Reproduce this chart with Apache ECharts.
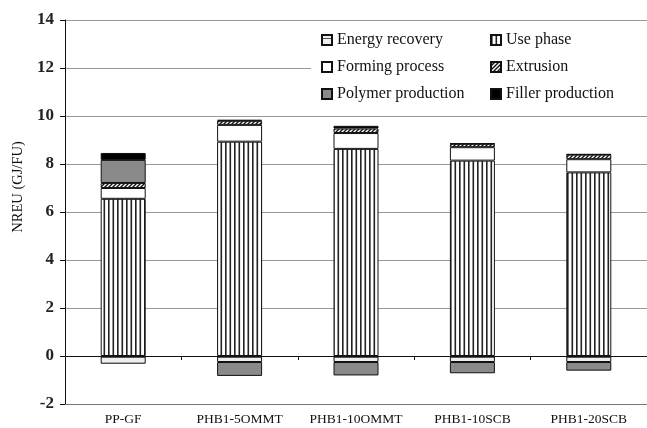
<!DOCTYPE html>
<html>
<head>
<meta charset="utf-8">
<script src="https://cdn.jsdelivr.net/npm/echarts@6/dist/echarts.min.js"></script>
<style>
  html, body { margin: 0; padding: 0; background: #fff; }
  #chart { width: 647px; height: 428px; }
</style>
</head>
<body>
<div id="chart"></div>
<script>
// Non-renewable energy use per functional unit, split by life-cycle stage
const categories = ['PP-GF', 'PHB1-5OMMT', 'PHB1-10OMMT', 'PHB1-10SCB', 'PHB1-20SCB'];
const energyRecovery    = [-0.32, -0.25, -0.25, -0.25, -0.25];
const usePhase          = [6.55, 8.93, 8.63, 8.14, 7.65];
const formingProcess    = [0.45, 0.70, 0.66, 0.56, 0.55];
const extrusion         = [0.21, 0.17, 0.19, 0.14, 0.19];
const polymerProduction = [0.96, -0.58, -0.56, -0.47, -0.36];
const fillerProduction  = [0.29, 0.04, 0.11, 0.02, 0.02];
const yMin = -2, yMax = 14, yStep = 2;

const serif = 'Liberation Serif, Times New Roman, serif';

function pattern(w, h, draw) {
  const c = document.createElement('canvas');
  c.width = w; c.height = h;
  const ctx = c.getContext('2d');
  ctx.fillStyle = '#fff';
  ctx.fillRect(0, 0, w, h);
  draw(ctx);
  return { image: c, repeat: 'repeat' };
}

const verticalLines = pattern(9, 4, ctx => {
  ctx.fillStyle = '#222';
  ctx.fillRect(0, 0, 1.6, 4);
  ctx.fillRect(4.5, 0, 1.6, 4);
});
const diagonalLines = pattern(4, 4, ctx => {
  ctx.strokeStyle = '#111';
  ctx.lineWidth = 1.4;
  ctx.beginPath();
  ctx.moveTo(-1, 5); ctx.lineTo(5, -1);
  ctx.moveTo(-1, 1); ctx.lineTo(1, -1);
  ctx.moveTo(3, 5); ctx.lineTo(5, 3);
  ctx.stroke();
});
const horizontalLines = pattern(4, 6, ctx => {
  ctx.fillStyle = '#eee';
  ctx.fillRect(0, 0, 4, 6);
  ctx.fillStyle = '#555';
  ctx.fillRect(0, 3, 4, 1);
});

const border = { borderColor: '#111', borderWidth: 1 };
function bar(name, data, color) {
  return {
    name, type: 'bar', stack: 'total', data,
    barWidth: 45,
    itemStyle: Object.assign({ color }, border),
    emphasis: { disabled: true }
  };
}

const legendText = { fontFamily: serif, fontSize: 16, color: '#111' };

const chart = echarts.init(document.getElementById('chart'), null, { renderer: 'canvas' });
chart.setOption({
  backgroundColor: '#fff',
  animation: false,
  grid: { left: 65, right: -5, top: 20, bottom: 24, containLabel: false },
  graphic: [{
    type: 'rect', z: 3, silent: true,
    shape: { x: 311, y: 25, width: 336, height: 83 },
    style: { fill: '#fff' }
  }],
  legend: [
    {
      orient: 'vertical', left: 321, top: 32, padding: 0, itemGap: 11,
      itemWidth: 10, itemHeight: 10, icon: 'rect', z: 5,
      textStyle: legendText,
      data: ['Energy recovery', 'Forming process', 'Polymer production']
    },
    {
      orient: 'vertical', left: 490, top: 32, padding: 0, itemGap: 11,
      itemWidth: 10, itemHeight: 10, icon: 'rect', z: 5,
      textStyle: legendText,
      data: ['Use phase', 'Extrusion', 'Filler production']
    }
  ],
  xAxis: [
    {
      type: 'category', data: categories, position: 'bottom',
      axisLine: { onZero: false, lineStyle: { color: '#777', width: 1 } },
      axisTick: { show: false },
      axisLabel: { interval: 0, margin: 8, fontFamily: serif, fontSize: 13.5, color: '#111' },
      splitLine: { show: false }
    },
    {
      type: 'category', data: categories, position: 'bottom',
      axisLine: { onZero: true, onZeroAxisIndex: 0, lineStyle: { color: '#111', width: 1 } },
      axisTick: { show: true, interval: 0, length: 4, lineStyle: { color: '#111' } },
      axisLabel: { show: false },
      splitLine: { show: false }
    }
  ],
  yAxis: {
    type: 'value', min: yMin, max: yMax, interval: yStep,
    name: 'NREU (GJ/FU)', nameLocation: 'middle', nameGap: 38,
    nameTextStyle: { fontFamily: serif, fontSize: 14.5, color: '#111', padding: [0, 0, 0, 50] },
    axisLine: { show: true, lineStyle: { color: '#111', width: 1 } },
    axisTick: { show: true, length: 5, lineStyle: { color: '#111' } },
    axisLabel: { margin: 11, fontFamily: serif, fontSize: 17, fontWeight: 'bold', color: '#222' },
    splitLine: { show: true, lineStyle: { color: '#999', width: 1 } }
  },
  series: [
    bar('Energy recovery', energyRecovery, horizontalLines),
    bar('Use phase', usePhase, verticalLines),
    bar('Forming process', formingProcess, '#fff'),
    bar('Extrusion', extrusion, diagonalLines),
    bar('Polymer production', polymerProduction, '#8a8a8a'),
    bar('Filler production', fillerProduction, '#000')
  ]
});
</script>
</body>
</html>
